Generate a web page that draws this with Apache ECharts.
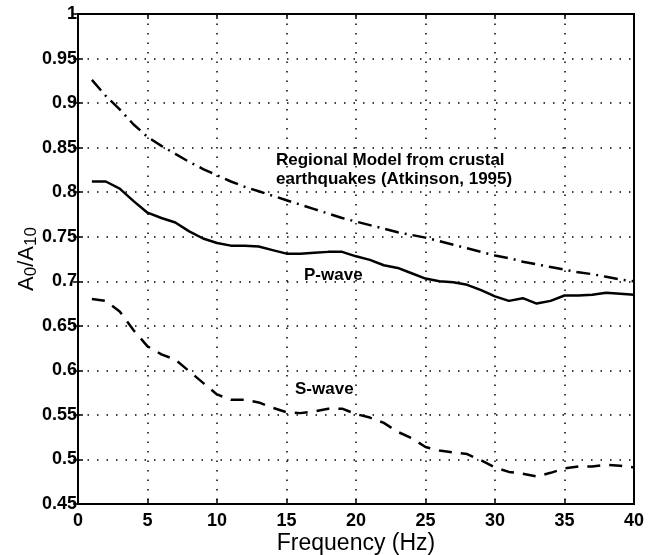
<!DOCTYPE html>
<html>
<head>
<meta charset="utf-8">
<script src="https://cdn.jsdelivr.net/npm/echarts@6/dist/echarts.min.js"></script>
<style>html,body{margin:0;padding:0;background:#fff}#c{width:659px;height:555px}</style>
</head>
<body>
<div id="c"></div>
<script>
var freq = [1,2,3,4,5,6,7,8,9,10,11,12,13,14,15,16,17,18,19,20,21,22,23,24,25,26,27,28,29,30,31,32,33,34,35,36,37,38,39,40];
var pWave = [0.812,0.812,0.804,0.790,0.777,0.771,0.766,0.756,0.748,0.743,0.740,0.740,0.739,0.735,0.731,0.731,0.732,0.733,0.733,0.728,0.724,0.718,0.715,0.709,0.703,0.700,0.699,0.696,0.690,0.683,0.678,0.681,0.675,0.678,0.684,0.684,0.685,0.687,0.686,0.685];
var sWave = [0.680,0.678,0.666,0.645,0.627,0.618,0.612,0.599,0.586,0.573,0.567,0.567,0.564,0.558,0.553,0.552,0.554,0.557,0.557,0.551,0.547,0.541,0.531,0.524,0.514,0.510,0.508,0.506,0.499,0.491,0.486,0.484,0.481,0.485,0.490,0.492,0.492,0.494,0.493,0.491];
var atkinson = [0.926,0.908,0.893,0.876,0.862,0.852,0.843,0.834,0.826,0.819,0.812,0.806,0.801,0.796,0.791,0.786,0.781,0.776,0.771,0.767,0.763,0.759,0.755,0.752,0.749,0.745,0.741,0.737,0.733,0.729,0.726,0.722,0.719,0.716,0.713,0.710,0.708,0.705,0.702,0.700];
var labelAtkinson = ["Regional Model from crustal", "earthquakes (Atkinson, 1995)"];
var labelP = "P-wave";
var labelS = "S-wave";
var xName = "Frequency (Hz)";

function pairs(v){ return freq.map(function(f,i){ return [f, v[i]]; }); }

var font = "Liberation Sans, Arial, sans-serif";
var tickLabel = {color:'#000', fontSize:18, fontWeight:'bold', fontFamily:font};
var grid = {left:78, right:25, top:14, bottom:51, show:true, borderColor:'#000', borderWidth:2, containLabel:false, outerBoundsMode:'none'};
var dotted = {show:true, lineStyle:{color:'#000', type:[1.5,8], width:1.5}};

var chart = echarts.init(document.getElementById('c'), null, {renderer:'canvas'});
chart.setOption({
  animation:false,
  backgroundColor:'#fff',
  grid: grid,
  xAxis: [{
    type:'value', min:0, max:40, interval:5, position:'bottom',
    axisLine:{show:true, lineStyle:{color:'#000', width:2}},
    axisTick:{show:true, inside:true, length:5, lineStyle:{color:'#000', width:1.5}},
    axisLabel:Object.assign({margin:8}, tickLabel),
    splitLine: dotted,
    name: xName, nameLocation:'middle', nameGap:28, nameMoveOverlap:false,
    nameTextStyle:{color:'#000', fontSize:23, fontFamily:font, verticalAlign:'top'}
  },{
    type:'value', min:0, max:40, interval:5, position:'top',
    axisLine:{show:true, lineStyle:{color:'#000', width:2}},
    axisTick:{show:true, inside:true, length:5, lineStyle:{color:'#000', width:1.5}},
    axisLabel:{show:false}, splitLine:{show:false}
  }],
  yAxis: [{
    type:'value', min:0.45, max:1, interval:0.05, position:'left',
    axisLine:{show:true, lineStyle:{color:'#000', width:2}},
    axisTick:{show:true, inside:true, length:5, lineStyle:{color:'#000', width:1.5}},
    axisLabel:Object.assign({margin:1, formatter:function(v){ return String(parseFloat(v.toFixed(2))); }}, tickLabel),
    splitLine: dotted,
    name:'A{s|0}/A{s|10}', nameLocation:'middle', nameGap:38, nameRotate:90, nameMoveOverlap:false,
    nameTextStyle:{color:'#000', fontSize:22, fontFamily:font,
      rich:{s:{fontSize:17, fontFamily:font, color:'#000', verticalAlign:'bottom', padding:[9,0,0,0]}}}
  },{
    type:'value', min:0.45, max:1, interval:0.05, position:'right',
    axisLine:{show:true, lineStyle:{color:'#000', width:2}},
    axisTick:{show:true, inside:true, length:5, lineStyle:{color:'#000', width:1.5}},
    axisLabel:{show:false}, splitLine:{show:false}
  }],
  series: [
    {type:'line', data:pairs(atkinson), showSymbol:false, symbol:'none', smooth:false,
     lineStyle:{color:'#000', width:2.5, type:[14,6,2,6]}},
    {type:'line', data:pairs(pWave), showSymbol:false, symbol:'none',
     lineStyle:{color:'#000', width:2.5, type:'solid'}},
    {type:'line', data:pairs(sWave), showSymbol:false, symbol:'none',
     lineStyle:{color:'#000', width:2.5, type:[13,9]}}
  ],
  graphic: [
    {type:'text', left:276, top:151, style:{text:labelAtkinson.join('\n'), fill:'#000', font:'bold 17px ' + font, lineHeight:19}},
    {type:'text', left:304, top:267, style:{text:labelP, fill:'#000', font:'bold 17px ' + font}},
    {type:'text', left:295, top:381, style:{text:labelS, fill:'#000', font:'bold 17px ' + font}}
  ]
});
</script>
</body>
</html>
